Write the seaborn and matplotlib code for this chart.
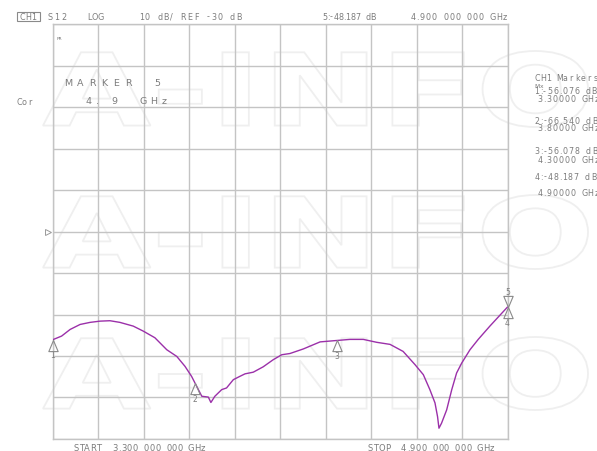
import numpy as np
import pandas as pd
import matplotlib
matplotlib.use("Agg")
import matplotlib.pyplot as plt
import seaborn as sns
from matplotlib.textpath import TextPath
from matplotlib.font_manager import FontProperties
from matplotlib.patches import PathPatch, Rectangle
from matplotlib.transforms import Affine2D
import matplotlib.transforms as mtransforms

# ---------------- data ----------------
freq_ghz = [3.300, 3.332, 3.362, 3.397, 3.432, 3.467, 3.502, 3.537, 3.584, 3.619,
            3.660, 3.702, 3.737, 3.766, 3.789, 3.807, 3.825, 3.848, 3.857, 3.871,
            3.895, 3.912, 3.936, 3.959, 3.977, 4.006, 4.041, 4.076, 4.106, 4.135,
            4.182, 4.241, 4.293, 4.346, 4.393, 4.440, 4.487, 4.533, 4.575, 4.604,
            4.627, 4.645, 4.654, 4.659, 4.668, 4.686, 4.704, 4.721, 4.739, 4.768,
            4.797, 4.838, 4.873, 4.900]
s12_db = [-56.1, -55.2, -53.6, -52.4, -51.9, -51.6, -51.5, -51.9, -52.8, -54.0,
          -55.6, -58.5, -60.1, -62.5, -64.9, -67.3, -69.7, -69.9, -71.2, -69.7,
          -68.1, -67.7, -65.7, -64.9, -64.3, -63.9, -62.6, -60.9, -59.7, -59.4,
          -58.3, -56.6, -56.3, -56.0, -56.0, -56.7, -57.2, -58.9, -62.1, -64.5,
          -68.1, -71.3, -74.6, -77.4, -76.2, -73.0, -68.1, -64.1, -61.7, -58.5,
          -56.0, -52.8, -50.2, -48.2]

marker_ids = ["1", "2", "3", "4", "5"]
marker_freq = [3.30, 3.80, 4.30, 4.90, 4.90]
marker_db = [-56.076, -66.540, -56.078, -48.187, -48.187]
marker_dir = ["up", "up", "up", "up", "down"]

x_grid = [3.30, 3.46, 3.62, 3.78, 3.94, 4.10, 4.26, 4.42, 4.58, 4.74, 4.90]
y_grid = [-80, -70, -60, -50, -40, -30, -20, -10, 0, 10, 20]
ref_level = -30

marker_list_lines = ["CH1 Markers", "Mx", "1:-56.076 dB", "3.30000 GHz",
                     "2:-66.540 dB", "3.80000 GHz", "3:-56.078 dB", "4.30000 GHz",
                     "4:-48.187 dB", "4.90000 GHz"]

# ---------------- figure ----------------
sns.set_style("white")
plt.rcParams['font.family'] = ['DejaVu Sans']

W, H = 597, 452
fig = plt.figure(figsize=(W / 100, H / 100), dpi=100)
fig.patch.set_facecolor("white")


def fx(px):
    return px / W


def fy(py):
    return 1 - py / H


TC = "#7c7c7c"
GRID = "#c4c4c4"
TRACE = "#9b30a9"

# watermark (outlined "A-INFO" three times)
fp = FontProperties(family="DejaVu Sans", weight="bold")
tp = TextPath((0, 0), "A-INFO", prop=fp, size=100)
bb = tp.get_extents()
for (x0, x1, ytop, ybot) in [(43, 588, 52, 128), (43, 588, 196, 270), (43, 588, 338, 411)]:
    sx = (fx(x1) - fx(x0)) / bb.width
    sy = (fy(ytop) - fy(ybot)) / bb.height
    tr = Affine2D().translate(-bb.x0, -bb.y0).scale(sx, sy).translate(fx(x0), fy(ybot)) + fig.transFigure
    fig.add_artist(PathPatch(tp, transform=tr, facecolor="none", edgecolor="#efefef",
                             lw=1.3, zorder=0.2))

ax = fig.add_axes([fx(52.5), fy(440), fx(507.5) - fx(52.5), fy(25) - fy(440)])
ax.patch.set_alpha(0)
ax.set_zorder(1)

df = pd.DataFrame({"freq": freq_ghz, "db": s12_db})
sns.lineplot(data=df, x="freq", y="db", ax=ax, color=TRACE, lw=1.0,
             estimator=None, sort=False, zorder=3)

ax.set_xlim(x_grid[0], x_grid[-1])
ax.set_ylim(y_grid[0], y_grid[-1])
ax.set_xticks(x_grid)
ax.set_yticks(y_grid)
ax.grid(True, color=GRID, lw=1.0)
ax.tick_params(length=0, labelbottom=False, labelleft=False)
ax.set_xlabel("")
ax.set_ylabel("")
for s in ax.spines.values():
    s.set_color(GRID)
    s.set_linewidth(1.0)

# markers
up_tri = [(0, 0), (-0.42, -1), (0.42, -1), (0, 0)]
down_tri = [(0, 0), (-0.42, 1), (0.42, 1), (0, 0)]
for mid, f, d, dr in zip(marker_ids, marker_freq, marker_db, marker_dir):
    ax.plot([f], [d], marker=up_tri if dr == "up" else down_tri, ms=16,
            mfc="none", mec="#8a8a8a", mew=0.8, ls="none", clip_on=False, zorder=4)
    off = -11 if dr == "up" else 11
    ax.annotate(mid, (f, d), xytext=(0, off), textcoords="offset points",
                ha="center", va="center", fontsize=5.5, color=TC, annotation_clip=False)

# reference level pointer
btr = mtransforms.blended_transform_factory(ax.transAxes, ax.transData)
ax.plot([-0.009], [ref_level], marker=">", ms=4, mfc="none", mec="#9a9a9a", mew=0.7,
        transform=btr, clip_on=False)

# ---------------- text helpers ----------------
NARROW = {".": 0.5, ":": 0.5, "/": 0.7, "-": 0.7, "1": 0.8, " ": 0.9}


def spaced(s, x_first, y, x_last=None, pitch=6.0, size=6.0, va="baseline", color=TC):
    w = [NARROW.get(c, 1.0) for c in s]
    cents = []
    pos = 0.0
    for i, wi in enumerate(w):
        if i == 0:
            cents.append(0.0)
        else:
            pos += (w[i - 1] + wi) / 2
            cents.append(pos)
    if x_last is not None and len(s) > 1:
        pitch = (x_last - x_first) / cents[-1]
    for c, cx in zip(s, cents):
        if c == " ":
            continue
        fig.text(fx(x_first + cx * pitch), fy(y), c, ha="center", va=va,
                 fontsize=size, color=color)


# header
fig.add_artist(Rectangle((fx(17), fy(21.5)), fx(39.5) - fx(17), fy(12.5) - fy(21.5),
                         transform=fig.transFigure, fill=False, ec="#8a8a8a", lw=0.8))
spaced("CH1", 22.3, 19.5, 33.7, size=5.8)
spaced("S12", 50.5, 19.5, 63.8, size=5.8)
spaced("LOG", 89.5, 19.5, 100.8, size=5.8)
spaced("10 dB/ REF -30 dB", 141.3, 19.5, 239, size=5.8)
spaced("5:-48.187 dB", 324.5, 19.5, 372.7, size=5.8)
spaced("4.900 000 000 GHz", 413.3, 19.5, 505, size=5.8)

# left annotations
spaced("Cor", 19, 105, 30, size=5.8)
fig.text(fx(56.5), fy(40.5), "PR", fontsize=3.2, color=TC, va="baseline")
spaced("MARKER", 68, 86, 128.3, size=6.8)
spaced("5", 157, 86, size=6.8)
spaced("4", 88, 104.5, size=6.8)
spaced(".", 97.5, 104.5, size=6.8)
spaced("9", 114.7, 104.5, size=6.8)
spaced("GHz", 143.3, 104.5, 164.3, size=6.8)

# right marker table
right_y = [78.5, 86, 91.5, 100, 121, 128.5, 151.5, 160.5, 177, 194]
right_x = [537, 537, 537, 540, 537, 540, 537, 540, 537, 540]
right_sz = [5.7, 4.3, 5.7, 5.7, 5.7, 5.7, 5.7, 5.7, 5.7, 5.7]
for s, yy, xx, sz in zip(marker_list_lines, right_y, right_x, right_sz):
    spaced(s, xx, yy, pitch=6.0 if sz > 5 else 4.5, size=sz, va="center")

# bottom
spaced("START  3.300 000 000 GHz", 75.7, 451, 202.7, size=6.0)
spaced("STOP  4.900 000 000 GHz", 370, 451, 491.7, size=6.0)

fig.savefig("out.png", dpi=100)
